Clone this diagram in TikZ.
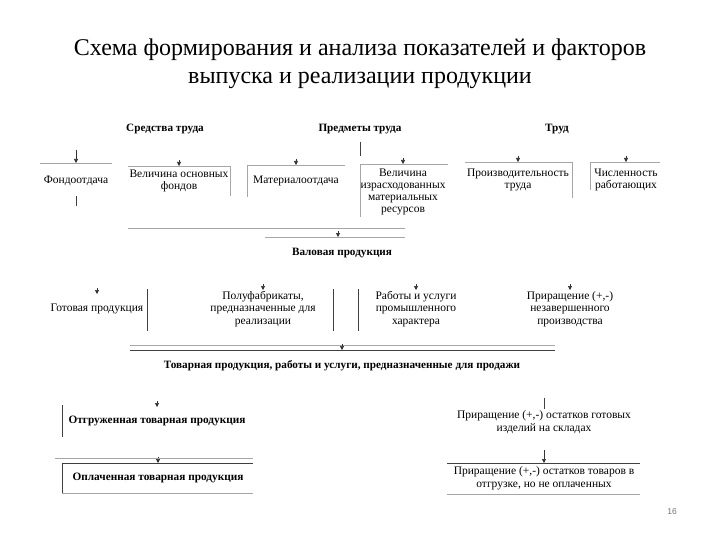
\documentclass[tikz,border=0pt]{standalone}
\usepackage{fontspec}
\setmainfont{Liberation Serif}
\newfontfamily\numfont{Liberation Sans}
\usetikzlibrary{arrows.meta}
\tikzset{
  ttl/.style={font=\fontsize{24}{28}\selectfont, align=center, inner sep=0pt},
  hdr/.style={font=\bfseries\fontsize{11.2}{13}\selectfont, align=center, inner sep=0pt},
  txt/.style={font=\fontsize{11.5}{12.5}\selectfont, align=center, inner sep=0pt},
  btxt/.style={font=\bfseries\fontsize{11.3}{13}\selectfont, align=center, inner sep=0pt},
  lt/.style={draw=black!35, line width=0.8pt},
  dk/.style={draw=black!75, line width=0.8pt},
  arr/.style={draw=black!80, line width=0.6pt, -{Triangle[length=4pt,width=4pt]}},
}
\begin{document}
\begin{tikzpicture}[x=1pt,y=-1pt]
\useasboundingbox[fill=white] (0,0) rectangle (720,540);

\node[ttl] (title) at (360,64) {Схема формирования и анализа показателей и факторов\\выпуска и реализации продукции};

% headers
\node[hdr] (sr) at (165,129) {Средства труда};
\node[hdr] (pr) at (360,129) {Предметы труда};
\node[hdr] (tr) at (557,129) {Труд};

% row 1
\node[txt] (fo) at (76,181) {Фондоотдача};
\node[txt] (vof) at (179,181) {Величина основных\\фондов};
\node[txt] (mo) at (296,181) {Материалоотдача};
\node[txt, font=\fontsize{11.5}{12}\selectfont] (vmr) at (403,192) {Величина\\израсходованных\\материальных\\ресурсов};
\node[txt] (pt) at (518,180) {Производительность\\труда};
\node[txt] (chr) at (626,180) {Численность\\работающих};

\coordinate (fo-t) at (76,163);
\coordinate (fo-a) at (76,150);
\coordinate (vof-t) at (179,166);
\coordinate (vof-a) at (179,160);
\coordinate (mo-t) at (296,165);
\coordinate (mo-a) at (296,159);
\coordinate (vmr-t) at (403,164);
\coordinate (vmr-a) at (403,158);
\coordinate (pt-t) at (518,162);
\coordinate (pt-a) at (518,156);
\coordinate (chr-t) at (626,162);
\coordinate (chr-a) at (626,156);

\draw[lt] (40,163) -- (112,163);
\draw[arr] (fo-a) -- (fo-t);
\draw[dk] (76,196) -- (76,206);
\draw[lt] (128,166) -- (230,166) -- (230,196);
\draw[arr] (vof-a) -- (vof-t);
\draw[lt] (247,197) -- (247,165) -- (345,165);
\draw[arr] (mo-a) -- (mo-t);
\draw[dk] (360,142) -- (360,156);
\draw[lt] (360,217) -- (360,164) -- (448,164);
\draw[arr] (vmr-a) -- (vmr-t);
\draw[lt] (465,162) -- (572,162) -- (572,198);
\draw[arr] (pt-a) -- (pt-t);
\draw[lt] (590,190) -- (590,162) -- (660,162);
\draw[arr] (chr-a) -- (chr-t);

% gross output
\draw[lt] (128,228) -- (405,228);
\draw[lt] (265,237) -- (405,237);
\node[hdr] (vp) at (342,253) {Валовая продукция};
\coordinate (vp-t) at (338,237);
\coordinate (vp-a) at (338,231);
\draw[arr] (vp-a) -- (vp-t);

% row 2
\node[txt] (gp) at (97,309) {Готовая продукция};
\node[txt] (pf) at (263,309) {Полуфабрикаты,\\предназначенные для\\реализации};
\node[txt] (ru) at (416,309) {Работы и услуги\\промышленного\\характера};
\node[txt] (nzp) at (570,309) {Приращение (+,-)\\незавершенного\\производства};
\coordinate (gp-t) at (97,294);
\coordinate (gp-a) at (97,288);
\coordinate (pf-t) at (263,290);
\coordinate (pf-a) at (263,284);
\coordinate (ru-t) at (416,290);
\coordinate (ru-a) at (416,284);
\coordinate (nzp-t) at (570,290);
\coordinate (nzp-a) at (570,284);
\draw[arr] (gp-a) -- (gp-t);
\draw[arr] (pf-a) -- (pf-t);
\draw[arr] (ru-a) -- (ru-t);
\draw[arr] (nzp-a) -- (nzp-t);
\draw[dk] (147,289) -- (147,331);
\draw[dk] (333,289) -- (333,331);
\draw[dk] (358,289) -- (358,331);

% commodity output
\draw[dk] (130,350) -- (555,350);
\draw[lt] (130,345) -- (555,345);
\coordinate (tp-t) at (342,350);
\coordinate (tp-a) at (342,344);
\draw[arr] (tp-a) -- (tp-t);
\node[hdr] (tp) at (342,366) {Товарная продукция, работы и услуги, предназначенные для продажи};

% row 3
\node[btxt] (ot) at (157,421) {Отгруженная товарная продукция};
\coordinate (ot-t) at (157,407);
\coordinate (ot-a) at (157,401);
\draw[arr] (ot-a) -- (ot-t);
\draw[dk] (62,405) -- (62,437);

\node[txt] (os) at (544,422) {Приращение (+,-) остатков готовых\\изделий на складах};
\draw[dk] (544,398) -- (544,409);

\node[btxt] (op) at (158,478) {Оплаченная товарная продукция};
\coordinate (op-t) at (158,463);
\coordinate (op-a) at (158,457);
\draw[arr] (op-a) -- (op-t);
\draw[lt] (55,458) -- (253,458);
\draw[dk] (62,463) -- (253,463);
\draw[dk] (62,463) -- (62,493);
\draw[lt] (62,493) -- (253,493);

\node[txt] (ono) at (544,478) {Приращение (+,-) остатков товаров в\\отгрузке, но не оплаченных};
\coordinate (ono-t) at (544,463);
\coordinate (ono-a) at (544,450);
\draw[arr] (ono-a) -- (ono-t);
\draw[dk] (447,463) -- (640,463);
\draw[lt] (447,494) -- (640,494);

\node[font=\numfont\fontsize{8.5}{10}\selectfont, text=black!55, inner sep=0pt] (pg) at (672,512) {16};
\end{tikzpicture}
\end{document}
